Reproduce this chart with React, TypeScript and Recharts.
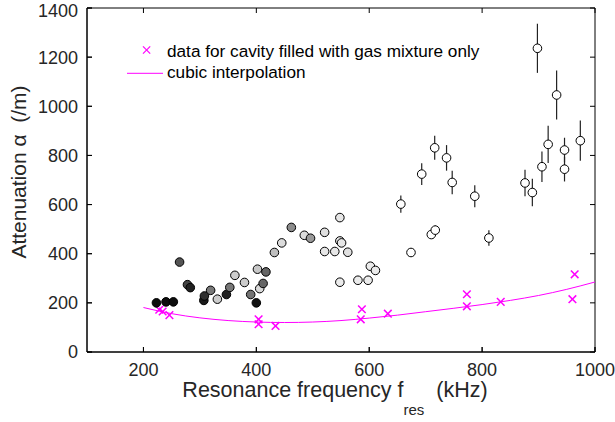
import { ScatterChart, Scatter, XAxis, YAxis, ErrorBar } from "recharts";

// grey-shaded points (shade: 0 = black, 1 = white)
const grayF = [223, 240, 253, 264, 278, 283, 307, 308, 319, 331, 347, 353, 362, 379, 390, 400, 402, 406, 412, 417, 432, 445, 462, 485, 496, 521, 521, 539, 548, 548, 551, 562, 548, 580, 598, 602, 611];
const grayA = [200, 204, 204, 366, 274, 262, 210, 228, 251, 215, 234, 263, 312, 283, 234, 200, 337, 258, 279, 326, 405, 444, 507, 475, 463, 487, 409, 409, 547, 452, 444, 406, 284, 292, 292, 349, 332];
const grayShade = [0.05, 0.05, 0.05, 0.33, 0.27, 0.13, 0.1, 0.18, 0.47, 0.8, 0.13, 0.47, 0.8, 0.8, 0.45, 0.07, 0.78, 0.85, 0.4, 0.4, 0.75, 0.86, 0.55, 0.86, 0.6, 0.88, 0.9, 0.9, 0.9, 0.9, 0.9, 0.88, 0.92, 0.92, 0.92, 0.92, 0.92];

// open points with error bars
const openF = [656, 674, 693, 710, 717, 716, 737, 747, 787, 812, 876, 889, 906, 917, 932, 898, 946, 946, 974];
const openA = [602, 405, 724, 478, 496, 831, 790, 690, 634, 464, 688, 649, 754, 845, 1046, 1236, 822, 744, 860];
const openErr = [35, 0, 44, 0, 20, 49, 52, 48, 45, 32, 54, 56, 62, 76, 100, 100, 50, 50, 82];

// cavity filled with gas mixture only
const gasF = [228, 234, 246, 404, 404, 434, 585, 587, 633, 773, 773, 833, 960, 964];
const gasA = [172, 165, 150, 133, 113, 106, 133, 174, 156, 235, 186, 204, 215, 316];

// cubic interpolation
const curveF = [200, 250, 300, 350, 400, 450, 500, 550, 600, 650, 700, 750, 800, 850, 900, 950, 1000];
const curveA = [181, 156, 139, 128, 122, 120, 122, 128, 138, 150, 164, 178, 193, 210, 230, 255, 285];

const xDomain = [100, 1000];
const yDomain = [0, 1400];
const xTicks = [200, 400, 600, 800, 1000];
const yTicks = [0, 200, 400, 600, 800, 1000, 1200, 1400];

const grayData = grayF.map((f, i) => ({ f, a: grayA[i], shade: grayShade[i] }));
const openData = openF.map((f, i) => ({ f, a: openA[i], err: openErr[i] }));
const gasData = gasF.map((f, i) => ({ f, a: gasA[i] }));
const curveData = curveF.map((f, i) => ({ f, a: curveA[i] }));

// axes box and inward tick marks (MATLAB "box on")
const frameData = [
  { f: xDomain[0], a: yDomain[0] },
  { f: xDomain[0], a: yDomain[1] },
  { f: xDomain[1], a: yDomain[1] },
  { f: xDomain[1], a: yDomain[0] },
  { f: xDomain[0], a: yDomain[0] },
];
const tickData = [
  ...xTicks.map((t) => ({ f: t, a: yDomain[0], side: "bottom" })),
  ...xTicks.map((t) => ({ f: t, a: yDomain[1], side: "top" })),
  ...yTicks.map((t) => ({ f: xDomain[0], a: t, side: "left" })),
  ...yTicks.map((t) => ({ f: xDomain[1], a: t, side: "right" })),
];

const FONT = '"Liberation Sans", Arial, Helvetica, sans-serif';
const AXIS = "#000";
const TEXT = "#262626";
const MAGENTA = "#ff00ff";

const grey = (s: number) => {
  const v = Math.round(s * 255);
  return `rgb(${v},${v},${v})`;
};

const Cross = (p: any) => {
  const { cx, cy } = p;
  const s = 3.8;
  return (
    <g stroke={MAGENTA} strokeWidth={1.5}>
      <line x1={cx - s} y1={cy - s} x2={cx + s} y2={cy + s} />
      <line x1={cx - s} y1={cy + s} x2={cx + s} y2={cy - s} />
    </g>
  );
};

const Dot = (p: any) => (
  <circle
    cx={p.cx}
    cy={p.cy}
    r={4.3}
    fill={p.payload && p.payload.shade !== undefined ? grey(p.payload.shade) : "#fff"}
    stroke="#000"
    strokeWidth={1}
  />
);

const TickMark = (p: any) => {
  const { cx, cy, payload } = p;
  const L = 5;
  let x2 = cx;
  let y2 = cy;
  const side = payload ? payload.side : "bottom";
  if (side === "bottom") y2 = cy - L;
  if (side === "top") y2 = cy + L;
  if (side === "left") x2 = cx + L;
  if (side === "right") x2 = cx - L;
  return <line x1={cx} y1={cy} x2={x2} y2={y2} stroke={AXIS} strokeWidth={1} />;
};

const XTitle = (p: any) => {
  const vb = p.viewBox || { x: 87, y: 352, width: 508, height: 70 };
  return (
    <text
      x={vb.x + vb.width / 2 - 6}
      y={vb.y + 45}
      textAnchor="middle"
      fontFamily={FONT}
      fontSize={21.5}
      fill={TEXT}
      style={{ whiteSpace: "pre" }}
    >
      Resonance frequency f
      <tspan dy={18} fontSize={15}>res</tspan>
      <tspan dy={-18}>{"  (kHz)"}</tspan>
    </text>
  );
};

const YTitle = (p: any) => {
  const vb = p.viewBox || { x: 0, y: 8, width: 87, height: 344 };
  const x = vb.x + 25.5;
  const y = vb.y + vb.height / 2 - 8;
  return (
    <text
      x={x}
      y={y}
      transform={`rotate(-90, ${x}, ${y})`}
      textAnchor="middle"
      fontFamily={FONT}
      fontSize={21}
      fill={TEXT}
      style={{ whiteSpace: "pre" }}
    >
      {"Attenuation α  (/m)"}
    </text>
  );
};

const LegendBox = () => (
  <svg
    width={400}
    height={50}
    style={{ position: "absolute", left: 125, top: 38, display: "block" }}
  >
    <g stroke={MAGENTA} strokeWidth={1.2}>
      <line x1={18} y1={8.4} x2={25.2} y2={15.6} />
      <line x1={18} y1={15.6} x2={25.2} y2={8.4} />
      <line x1={2} y1={35.3} x2={38} y2={35.3} strokeWidth={1} />
    </g>
    <text x={42} y={18.7} fontFamily={FONT} fontSize={17.2} fill="#000">
      data for cavity filled with gas mixture only
    </text>
    <text x={42} y={40.3} fontFamily={FONT} fontSize={17.2} fill="#000">
      cubic interpolation
    </text>
  </svg>
);

const noShape = () => <g />;

export default function App() {
  return (
    <div style={{ position: "absolute", left: 0, top: 0, width: 615, height: 422 }}>
      <ScatterChart width={615} height={422} margin={{ top: 8, right: 20, bottom: 0, left: 0 }}>
        <XAxis
          type="number"
          dataKey="f"
          domain={xDomain}
          ticks={xTicks}
          height={70}
          tickSize={-5}
          tickMargin={16}
          axisLine={{ stroke: "#000" }}
          tickLine={{ stroke: "#000" }}
          tick={{ fill: TEXT, fontSize: 18, fontFamily: FONT }}
          label={<XTitle />}
        />
        <YAxis
          type="number"
          dataKey="a"
          domain={yDomain}
          ticks={yTicks}
          width={87}
          tickSize={-5}
          tickMargin={14}
          axisLine={{ stroke: "#000" }}
          tickLine={{ stroke: "#000" }}
          tick={{ fill: TEXT, fontSize: 18, fontFamily: FONT }}
          label={<YTitle />}
        />
        <Scatter
          data={frameData}
          line={{ stroke: AXIS, strokeWidth: 1 }}
          lineJointType="linear"
          shape={noShape}
          isAnimationActive={false}
        />
        <Scatter data={tickData} shape={TickMark} isAnimationActive={false} />
        <Scatter
          data={curveData}
          line={{ stroke: MAGENTA, strokeWidth: 1 }}
          lineJointType="monotoneX"
          shape={noShape}
          isAnimationActive={false}
        />
        <Scatter data={gasData} shape={Cross} isAnimationActive={false} />
        <Scatter data={grayData} shape={Dot} isAnimationActive={false} />
        <Scatter data={openData} shape={Dot} isAnimationActive={false}>
          <ErrorBar dataKey="err" direction="y" width={0} stroke="#222" strokeWidth={1.2} />
        </Scatter>
      </ScatterChart>
      <LegendBox />
    </div>
  );
}
